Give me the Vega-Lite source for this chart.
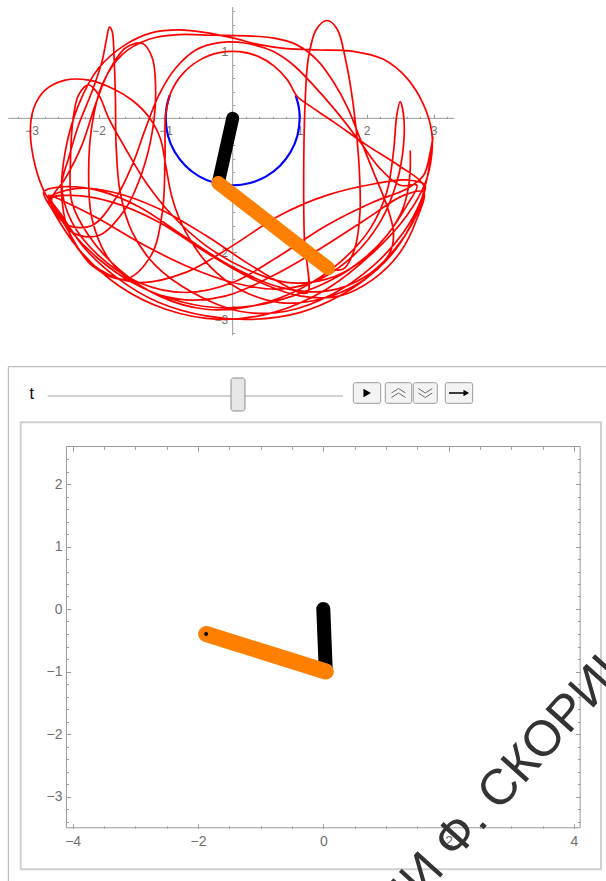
{
  "$schema": "https://vega.github.io/schema/vega-lite/v6.json",
  "width": 606,
  "height": 881,
  "padding": 0,
  "autosize": {"type": "none"},
  "background": "#ffffff",
  "config": {
    "view": {"stroke": null},
    "axis": {"grid": false, "domain": false, "labelFont": "Liberation Sans", "labelColor": "#707070", "tickColor": "#9a9a9a", "labelFlush": false, "labelOverlap": false, "title": null}
  },
  "datasets": {
    "circle1": [
      {"i":1,"x":-0.94,"y":0.342},{"i":2,"x":-0.985,"y":0.174},{"i":3,"x":-1.0,"y":0.0},{"i":4,"x":-0.966,"y":-0.259},{"i":5,"x":-0.866,"y":-0.5},
      {"i":6,"x":-0.707,"y":-0.707},{"i":7,"x":-0.5,"y":-0.866},{"i":8,"x":-0.259,"y":-0.966},{"i":9,"x":0.0,"y":-1.0},{"i":10,"x":0.259,"y":-0.966},
      {"i":11,"x":0.5,"y":-0.866},{"i":12,"x":0.707,"y":-0.707},{"i":13,"x":0.866,"y":-0.5},{"i":14,"x":0.966,"y":-0.259},{"i":15,"x":1.0,"y":0.0},
      {"i":16,"x":0.985,"y":0.174},{"i":17,"x":0.94,"y":0.342}
    ],
    "traj": [
      {"i":1,"x":2.65,"y":-0.48},{"i":2,"x":2.65,"y":-0.75},{"i":3,"x":2.62,"y":-1.05},{"i":4,"x":2.52,"y":-1.4},{"i":5,"x":2.3,"y":-1.75},
      {"i":6,"x":1.95,"y":-2.1},{"i":7,"x":1.5,"y":-2.4},{"i":8,"x":0.9,"y":-2.65},{"i":9,"x":0.3,"y":-2.8},{"i":10,"x":-0.3,"y":-2.82},
      {"i":11,"x":-0.9,"y":-2.7},{"i":12,"x":-1.5,"y":-2.45},{"i":13,"x":-2.0,"y":-2.1},{"i":14,"x":-2.4,"y":-1.7},{"i":15,"x":-2.68,"y":-1.3},
      {"i":16,"x":-2.8,"y":-1.12},{"i":17,"x":-2.95,"y":-0.7},{"i":18,"x":-3.02,"y":-0.2},{"i":19,"x":-2.97,"y":0.15},{"i":20,"x":-2.8,"y":0.42},
      {"i":21,"x":-2.5,"y":0.57},{"i":22,"x":-2.15,"y":0.57},{"i":23,"x":-1.8,"y":0.45},{"i":24,"x":-1.5,"y":0.27},{"i":25,"x":-1.25,"y":0.02},
      {"i":26,"x":-1.08,"y":-0.3},{"i":27,"x":-1.0,"y":-0.7},{"i":28,"x":-0.9,"y":-1.2},{"i":29,"x":-0.7,"y":-1.7},{"i":30,"x":-0.35,"y":-2.2},
      {"i":31,"x":0.1,"y":-2.55},{"i":32,"x":0.7,"y":-2.75},{"i":33,"x":1.3,"y":-2.7},{"i":34,"x":1.9,"y":-2.45},{"i":35,"x":2.4,"y":-2.0},
      {"i":36,"x":2.75,"y":-1.4},{"i":37,"x":2.9,"y":-0.9},{"i":38,"x":2.97,"y":-0.45},{"i":39,"x":2.99,"y":-0.28},{"i":40,"x":2.95,"y":-0.5},
      {"i":41,"x":2.85,"y":-0.85},{"i":42,"x":2.6,"y":-1.05},{"i":43,"x":2.1,"y":-1.25},{"i":44,"x":1.4,"y":-1.6},{"i":45,"x":0.7,"y":-2.05},
      {"i":46,"x":0.0,"y":-2.45},{"i":47,"x":-0.7,"y":-2.6},{"i":48,"x":-1.4,"y":-2.45},{"i":49,"x":-2.0,"y":-2.05},{"i":50,"x":-2.4,"y":-1.55},
      {"i":51,"x":-2.55,"y":-1.0},{"i":52,"x":-2.45,"y":-0.6},{"i":53,"x":-2.3,"y":-0.1},{"i":54,"x":-2.1,"y":0.4},{"i":55,"x":-1.95,"y":0.85},
      {"i":56,"x":-1.88,"y":1.2},{"i":57,"x":-1.84,"y":1.36},{"i":58,"x":-1.8,"y":1.3},{"i":59,"x":-1.77,"y":0.9},{"i":60,"x":-1.75,"y":0.3},
      {"i":61,"x":-1.74,"y":-0.4},{"i":62,"x":-1.68,"y":-1.1},{"i":63,"x":-1.5,"y":-1.7},{"i":64,"x":-1.15,"y":-2.2},{"i":65,"x":-0.6,"y":-2.6},
      {"i":66,"x":0.1,"y":-2.88},{"i":67,"x":0.8,"y":-2.88},{"i":68,"x":1.5,"y":-2.62},{"i":69,"x":2.1,"y":-2.2},{"i":70,"x":2.55,"y":-1.7},
      {"i":71,"x":2.8,"y":-1.25},{"i":72,"x":2.87,"y":-1.0},{"i":73,"x":2.6,"y":-0.92},{"i":74,"x":2.1,"y":-0.98},{"i":75,"x":1.4,"y":-1.15},
      {"i":76,"x":0.7,"y":-1.45},{"i":77,"x":0.0,"y":-1.9},{"i":78,"x":-0.7,"y":-2.3},{"i":79,"x":-1.4,"y":-2.45},{"i":80,"x":-2.0,"y":-2.25},
      {"i":81,"x":-2.4,"y":-1.8},{"i":82,"x":-2.55,"y":-1.2},{"i":83,"x":-2.5,"y":-0.5},{"i":84,"x":-2.3,"y":0.2},{"i":85,"x":-2.0,"y":0.75},
      {"i":86,"x":-1.6,"y":1.1},{"i":87,"x":-1.2,"y":1.28},{"i":88,"x":-0.8,"y":1.32},{"i":89,"x":-0.4,"y":1.28},{"i":90,"x":0.0,"y":1.2},
      {"i":91,"x":0.4,"y":1.1},{"i":92,"x":0.8,"y":1.04},{"i":93,"x":1.3,"y":1.02},{"i":94,"x":1.8,"y":1.0},{"i":95,"x":2.25,"y":0.88},
      {"i":96,"x":2.6,"y":0.6},{"i":97,"x":2.85,"y":0.2},{"i":98,"x":2.97,"y":-0.2},{"i":99,"x":2.97,"y":-0.55},{"i":100,"x":2.88,"y":-0.95},
      {"i":101,"x":2.6,"y":-1.45},{"i":102,"x":2.1,"y":-2.0},{"i":103,"x":1.4,"y":-2.55},{"i":104,"x":0.6,"y":-2.9},{"i":105,"x":-0.2,"y":-3.0},
      {"i":106,"x":-1.0,"y":-2.85},{"i":107,"x":-1.7,"y":-2.5},{"i":108,"x":-2.3,"y":-1.95},{"i":109,"x":-2.7,"y":-1.35},{"i":110,"x":-2.82,"y":-1.1},
      {"i":111,"x":-2.5,"y":-1.02},{"i":112,"x":-2.0,"y":-1.08},{"i":113,"x":-1.4,"y":-1.32},{"i":114,"x":-0.7,"y":-1.78},{"i":115,"x":0.0,"y":-2.22},
      {"i":116,"x":0.7,"y":-2.52},{"i":117,"x":1.4,"y":-2.58},{"i":118,"x":2.0,"y":-2.35},{"i":119,"x":2.5,"y":-1.85},{"i":120,"x":2.8,"y":-1.3},
      {"i":121,"x":2.85,"y":-1.0},{"i":122,"x":2.5,"y":-0.72},{"i":123,"x":2.0,"y":-0.4},{"i":124,"x":1.5,"y":-0.05},{"i":125,"x":1.13,"y":0.2},
      {"i":126,"x":0.96,"y":0.33},{"i":127,"x":0.82,"y":0.57},{"i":128,"x":0.62,"y":0.78},{"i":129,"x":0.38,"y":0.925},{"i":130,"x":0.1,"y":0.995},
      {"i":131,"x":-0.2,"y":0.98},{"i":132,"x":-0.5,"y":0.865},{"i":133,"x":-0.75,"y":0.66},{"i":134,"x":-0.92,"y":0.39},{"i":135,"x":-1.0,"y":0.05},
      {"i":136,"x":-1.01,"y":-0.6},{"i":137,"x":-1.05,"y":-1.4},{"i":138,"x":-1.22,"y":-2.05},{"i":139,"x":-1.6,"y":-2.4},{"i":140,"x":-2.1,"y":-2.2},
      {"i":141,"x":-2.5,"y":-1.6},{"i":142,"x":-2.72,"y":-1.2},{"i":143,"x":-2.4,"y":-1.15},{"i":144,"x":-1.8,"y":-1.25},{"i":145,"x":-1.1,"y":-1.55},
      {"i":146,"x":-0.4,"y":-2.0},{"i":147,"x":0.3,"y":-2.4},{"i":148,"x":1.0,"y":-2.65},{"i":149,"x":1.6,"y":-2.65},{"i":150,"x":2.1,"y":-2.4},
      {"i":151,"x":2.5,"y":-2.0},{"i":152,"x":2.75,"y":-1.5},{"i":153,"x":2.85,"y":-1.1},{"i":154,"x":2.55,"y":-1.15},{"i":155,"x":2.0,"y":-1.5},
      {"i":156,"x":1.3,"y":-1.95},{"i":157,"x":0.6,"y":-2.35},{"i":158,"x":-0.1,"y":-2.65},{"i":159,"x":-0.8,"y":-2.7},{"i":160,"x":-1.4,"y":-2.5},
      {"i":161,"x":-1.85,"y":-2.1},{"i":162,"x":-2.1,"y":-1.5},{"i":163,"x":-2.15,"y":-0.8},{"i":164,"x":-2.1,"y":-0.1},{"i":165,"x":-1.95,"y":0.5},
      {"i":166,"x":-1.65,"y":0.95},{"i":167,"x":-1.25,"y":1.18},{"i":168,"x":-0.8,"y":1.25},{"i":169,"x":-0.3,"y":1.24},{"i":170,"x":0.2,"y":1.23},
      {"i":171,"x":0.6,"y":1.2},{"i":172,"x":0.95,"y":1.1},{"i":173,"x":1.25,"y":0.88},{"i":174,"x":1.5,"y":0.55},{"i":175,"x":1.72,"y":0.15},
      {"i":176,"x":1.9,"y":-0.3},{"i":177,"x":2.1,"y":-0.8},{"i":178,"x":2.3,"y":-1.3},{"i":179,"x":2.4,"y":-1.7},{"i":180,"x":2.35,"y":-2.0},
      {"i":181,"x":2.1,"y":-2.3},{"i":182,"x":1.6,"y":-2.65},{"i":183,"x":1.0,"y":-2.9},{"i":184,"x":0.3,"y":-3.0},{"i":185,"x":-0.4,"y":-2.95},
      {"i":186,"x":-1.1,"y":-2.75},{"i":187,"x":-1.7,"y":-2.4},{"i":188,"x":-2.2,"y":-1.95},{"i":189,"x":-2.55,"y":-1.45},{"i":190,"x":-2.75,"y":-1.15},
      {"i":191,"x":-2.5,"y":-1.25},{"i":192,"x":-2.0,"y":-1.5},{"i":193,"x":-1.4,"y":-1.85},{"i":194,"x":-0.7,"y":-2.2},{"i":195,"x":0.0,"y":-2.45},
      {"i":196,"x":0.7,"y":-2.55},{"i":197,"x":1.3,"y":-2.4},{"i":198,"x":1.8,"y":-2.05},{"i":199,"x":2.2,"y":-1.55},{"i":200,"x":2.45,"y":-0.95},
      {"i":201,"x":2.55,"y":-0.4},{"i":202,"x":2.55,"y":0.05},{"i":203,"x":2.5,"y":0.25},{"i":204,"x":2.45,"y":0.05},{"i":205,"x":2.4,"y":-0.5},
      {"i":206,"x":2.3,"y":-1.1},{"i":207,"x":2.05,"y":-1.65},{"i":208,"x":1.6,"y":-2.15},{"i":209,"x":1.0,"y":-2.55},{"i":210,"x":0.3,"y":-2.8},
      {"i":211,"x":-0.4,"y":-2.85},{"i":212,"x":-1.1,"y":-2.65},{"i":213,"x":-1.7,"y":-2.25},{"i":214,"x":-2.15,"y":-1.75},{"i":215,"x":-2.4,"y":-1.25},
      {"i":216,"x":-2.42,"y":-0.6},{"i":217,"x":-2.38,"y":0.0},{"i":218,"x":-2.3,"y":0.35},{"i":219,"x":-2.15,"y":0.5},{"i":220,"x":-2.0,"y":0.35},
      {"i":221,"x":-1.85,"y":0.0},{"i":222,"x":-1.6,"y":-0.45},{"i":223,"x":-1.3,"y":-0.95},{"i":224,"x":-0.9,"y":-1.45},{"i":225,"x":-0.4,"y":-1.9},
      {"i":226,"x":0.2,"y":-2.25},{"i":227,"x":0.8,"y":-2.45},{"i":228,"x":1.4,"y":-2.4},{"i":229,"x":1.9,"y":-2.15},{"i":230,"x":2.3,"y":-1.75},
      {"i":231,"x":2.6,"y":-1.3},{"i":232,"x":2.75,"y":-1.0},{"i":233,"x":2.5,"y":-1.0},{"i":234,"x":2.2,"y":-0.75},{"i":235,"x":1.9,"y":-0.35},
      {"i":236,"x":1.55,"y":0.1},{"i":237,"x":1.2,"y":0.5},{"i":238,"x":0.9,"y":0.8},{"i":239,"x":0.6,"y":1.0},{"i":240,"x":0.2,"y":1.12},
      {"i":241,"x":-0.2,"y":1.13},{"i":242,"x":-0.55,"y":1.02},{"i":243,"x":-0.85,"y":0.75},{"i":244,"x":-1.1,"y":0.35},{"i":245,"x":-1.3,"y":-0.15},
      {"i":246,"x":-1.5,"y":-0.7},{"i":247,"x":-1.75,"y":-1.2},{"i":248,"x":-2.1,"y":-1.6},{"i":249,"x":-2.45,"y":-1.6},{"i":250,"x":-2.65,"y":-1.4},
      {"i":251,"x":-2.7,"y":-1.2},{"i":252,"x":-2.5,"y":-0.9},{"i":253,"x":-2.25,"y":-0.4},{"i":254,"x":-2.05,"y":0.2},{"i":255,"x":-1.85,"y":0.7},
      {"i":256,"x":-1.6,"y":1.05},{"i":257,"x":-1.35,"y":1.12},{"i":258,"x":-1.2,"y":0.9},{"i":259,"x":-1.15,"y":0.4},{"i":260,"x":-1.2,"y":-0.2},
      {"i":261,"x":-1.35,"y":-0.8},{"i":262,"x":-1.6,"y":-1.35},{"i":263,"x":-2.0,"y":-1.75},{"i":264,"x":-2.4,"y":-1.7},{"i":265,"x":-2.65,"y":-1.35},
      {"i":266,"x":-2.75,"y":-1.2},{"i":267,"x":-2.35,"y":-1.05},{"i":268,"x":-1.8,"y":-1.1},{"i":269,"x":-1.1,"y":-1.35},{"i":270,"x":-0.4,"y":-1.75},
      {"i":271,"x":0.2,"y":-2.15},{"i":272,"x":0.7,"y":-2.45},{"i":273,"x":1.0,"y":-2.6},{"i":274,"x":1.12,"y":-2.6},{"i":275,"x":1.07,"y":-1.8},
      {"i":276,"x":1.06,"y":-0.8},{"i":277,"x":1.08,"y":0.2},{"i":278,"x":1.13,"y":0.9},{"i":279,"x":1.25,"y":1.33},{"i":280,"x":1.41,"y":1.46},
      {"i":281,"x":1.56,"y":1.33},{"i":282,"x":1.68,"y":0.9},{"i":283,"x":1.8,"y":0.2},{"i":284,"x":1.88,"y":-0.6},{"i":285,"x":1.9,"y":-1.4},
      {"i":286,"x":1.82,"y":-1.95},{"i":287,"x":1.65,"y":-2.25},{"i":288,"x":1.43,"y":-2.24}
    ]
  },
  "layer": [
    {
      "layer": [
        {
          "data": {"values": [{"x1": -3.35, "x2": 3.31}]},
          "mark": {"type": "rule", "color": "#999999", "strokeWidth": 1},
          "encoding": {
            "x": {"field": "x1", "type": "quantitative", "scale": {"domain": [-3.473, 5.572], "nice": false, "zero": false},
                  "axis": {"orient": "bottom", "offset": -762.7, "values": [-3, -2, -1, 1, 2, 3], "ticks": false, "tickSize": 0, "labelPadding": 7, "labelFontSize": 12}},
            "x2": {"field": "x2"},
            "y": {"datum": 0, "type": "quantitative", "scale": {"domain": [-11.384, 1.766], "nice": false, "zero": false}, "axis": null}
          }
        },
        {
          "data": {"values": [{"y1": -3.24, "y2": 1.66}]},
          "mark": {"type": "rule", "color": "#999999", "strokeWidth": 1},
          "encoding": {
            "y": {"field": "y1", "type": "quantitative", "scale": {"domain": [-11.384, 1.766], "nice": false, "zero": false},
                  "axis": {"orient": "left", "offset": -232.7, "values": [-3, -2, -1, 1], "ticks": false, "tickSize": 0, "labelPadding": 5, "labelFontSize": 12}},
            "y2": {"field": "y2"},
            "x": {"datum": 0, "type": "quantitative", "scale": {"domain": [-3.473, 5.572], "nice": false, "zero": false}, "axis": null}
          }
        },
        {
          "data": {"name": "circle1"},
          "mark": {"type": "line", "color": "#0000ff", "strokeWidth": 2.2, "interpolate": "catmull-rom"},
          "encoding": {
            "x": {"field": "x", "type": "quantitative", "scale": {"domain": [-3.473, 5.572], "nice": false, "zero": false},
                  "axis": {"orient": "top", "offset": -118.3, "values": [-3, -2, -1, 1, 2, 3], "labels": false, "tickSize": 4}},
            "y": {"field": "y", "type": "quantitative", "scale": {"domain": [-11.384, 1.766], "nice": false, "zero": false},
                  "axis": {"orient": "right", "offset": -373.3, "values": [-3, -2, -1, 1], "labels": false, "tickSize": 4}},
            "order": {"field": "i", "type": "quantitative"}
          }
        },
        {
          "data": {"name": "traj"},
          "mark": {"type": "line", "color": "#ff0000", "strokeWidth": 1.7, "interpolate": "catmull-rom"},
          "encoding": {
            "x": {"field": "x", "type": "quantitative", "scale": {"domain": [-3.473, 5.572], "nice": false, "zero": false},
                  "axis": {"orient": "top", "offset": -118.3, "values": [-3.2, -2.8, -2.6, -2.4, -2.2, -1.8, -1.6, -1.4, -1.2, -0.8, -0.6, -0.4, -0.2, 0.2, 0.4, 0.6, 0.8, 1.2, 1.4, 1.6, 1.8, 2.2, 2.4, 2.6, 2.8, 3.2], "labels": false, "tickSize": 2}},
            "y": {"field": "y", "type": "quantitative", "scale": {"domain": [-11.384, 1.766], "nice": false, "zero": false},
                  "axis": {"orient": "right", "offset": -373.3, "values": [-3.2, -2.8, -2.6, -2.4, -2.2, -1.8, -1.6, -1.4, -1.2, -0.8, -0.6, -0.4, -0.2, 0.2, 0.4, 0.6, 0.8, 1.2, 1.4, 1.6], "labels": false, "tickSize": 2}},
            "order": {"field": "i", "type": "quantitative"}
          }
        },
        {
          "data": {"values": [{"x": 0, "y": 0, "x2": -0.215, "y2": -0.965}]},
          "mark": {"type": "rule", "color": "#000000", "strokeWidth": 13, "strokeCap": "round"},
          "encoding": {
            "x": {"field": "x", "type": "quantitative", "scale": {"domain": [-3.473, 5.572], "nice": false, "zero": false}, "axis": null},
            "y": {"field": "y", "type": "quantitative", "scale": {"domain": [-11.384, 1.766], "nice": false, "zero": false}, "axis": null},
            "x2": {"field": "x2"}, "y2": {"field": "y2"}
          }
        },
        {
          "data": {"values": [{"x": -0.215, "y": -0.965, "x2": 1.427, "y2": -2.239}]},
          "mark": {"type": "rule", "color": "#ff8000", "strokeWidth": 14, "strokeCap": "round"},
          "encoding": {
            "x": {"field": "x", "type": "quantitative", "scale": {"domain": [-3.473, 5.572], "nice": false, "zero": false}, "axis": null},
            "y": {"field": "y", "type": "quantitative", "scale": {"domain": [-11.384, 1.766], "nice": false, "zero": false}, "axis": null},
            "x2": {"field": "x2"}, "y2": {"field": "y2"}
          }
        }
      ],
      "resolve": {"axis": {"x": "independent", "y": "independent"}}
    },
    {
      "layer": [
        {
          "data": {"values": [{}]},
          "mark": {"type": "rect", "filled": false, "color": "#b0b0b0", "strokeWidth": 1},
          "encoding": {
            "x": {"datum": -5.027, "type": "quantitative", "scale": {"domain": [-5.16, 4.512], "nice": false, "zero": false}, "axis": null},
            "x2": {"datum": 4.927},
            "y": {"datum": 3.877, "type": "quantitative", "scale": {"domain": [-4.352, 9.744], "nice": false, "zero": false}, "axis": null},
            "y2": {"datum": -4.496}
          }
        },
        {
          "data": {"values": [{}]},
          "mark": {"type": "rect", "filled": false, "color": "#d0d0d0", "strokeWidth": 2},
          "encoding": {
            "x": {"datum": -4.829, "type": "quantitative", "scale": {"domain": [-5.16, 4.512], "nice": false, "zero": false},
                  "axis": {"orient": "bottom", "offset": -434.3, "values": [-3.5, -3, -2.5, -1.5, -1, -0.5, 0.5, 1, 1.5, 2.5, 3, 3.5], "labels": false, "tickSize": 2.5}},
            "x2": {"datum": 4.432},
            "y": {"datum": 2.987, "type": "quantitative", "scale": {"domain": [-4.352, 9.744], "nice": false, "zero": false},
                  "axis": {"orient": "left", "offset": -580, "values": [-3.4, -3.2, -2.8, -2.6, -2.4, -2.2, -1.8, -1.6, -1.4, -1.2, -0.8, -0.6, -0.4, -0.2, 0.2, 0.4, 0.6, 0.8, 1.2, 1.4, 1.6, 1.8, 2.2, 2.4], "labels": false, "tickSize": 2.5}},
            "y2": {"datum": -4.165}
          }
        },
        {
          "data": {"values": [{}]},
          "mark": {"type": "rule", "color": "#c2c2c2", "strokeWidth": 1.5},
          "encoding": {
            "x": {"datum": -4.398, "type": "quantitative", "scale": {"domain": [-5.16, 4.512], "nice": false, "zero": false}, "axis": null},
            "x2": {"datum": 0.314},
            "y": {"datum": 3.408, "type": "quantitative", "scale": {"domain": [-4.352, 9.744], "nice": false, "zero": false}, "axis": null}
          }
        },
        {
          "data": {"values": [{}]},
          "mark": {"type": "rect", "fill": "#e6e6e6", "stroke": "#8c8c8c", "strokeWidth": 1, "cornerRadius": 2.5},
          "encoding": {
            "x": {"datum": -1.473, "type": "quantitative", "scale": {"domain": [-5.16, 4.512], "nice": false, "zero": false}, "axis": null},
            "x2": {"datum": -1.25},
            "y": {"datum": 3.696, "type": "quantitative", "scale": {"domain": [-4.352, 9.744], "nice": false, "zero": false}, "axis": null},
            "y2": {"datum": 3.168}
          }
        },
        {
          "data": {"values": [{"b": "play", "x0": 0.479, "x1": 0.916}, {"b": "up", "x0": 0.989, "x1": 1.411}, {"b": "down", "x0": 1.436, "x1": 1.819}, {"b": "next", "x0": 1.947, "x1": 2.384}]},
          "mark": {"type": "rect", "fill": "#f3f3f3", "stroke": "#9a9a9a", "strokeWidth": 1, "cornerRadius": 2},
          "encoding": {
            "x": {"field": "x0", "type": "quantitative", "scale": {"domain": [-5.16, 4.512], "nice": false, "zero": false}, "axis": null},
            "x2": {"field": "x1"},
            "y": {"datum": 3.621, "type": "quantitative", "scale": {"domain": [-4.352, 9.744], "nice": false, "zero": false}, "axis": null},
            "y2": {"datum": 3.291}
          }
        },
        {
          "data": {"values": [{}]},
          "mark": {"type": "point", "shape": "triangle-right", "size": 75, "filled": true, "color": "#000000", "opacity": 1},
          "encoding": {
            "x": {"datum": 0.70, "type": "quantitative", "scale": {"domain": [-5.16, 4.512], "nice": false, "zero": false}, "axis": null},
            "y": {"datum": 3.456, "type": "quantitative", "scale": {"domain": [-4.352, 9.744], "nice": false, "zero": false}, "axis": null}
          }
        },
        {
          "data": {"values": [{"x": 1.2, "s": "M-0.7,0L0,-0.45L0.7,0M-0.7,0.45L0,0L0.7,0.45"}, {"x": 1.628, "s": "M-0.7,-0.45L0,0L0.7,-0.45M-0.7,0L0,0.45L0.7,0"}]},
          "mark": {"type": "point", "size": 400, "filled": false, "stroke": "#6a6a6a", "strokeWidth": 1, "opacity": 1},
          "encoding": {
            "x": {"field": "x", "type": "quantitative", "scale": {"domain": [-5.16, 4.512], "nice": false, "zero": false}, "axis": null},
            "y": {"datum": 3.456, "type": "quantitative", "scale": {"domain": [-4.352, 9.744], "nice": false, "zero": false}, "axis": null},
            "shape": {"field": "s", "type": "nominal", "scale": null}
          }
        },
        {
          "data": {"values": [{}]},
          "mark": {"type": "point", "shape": "M-1,-0.07L0.45,-0.07L0.45,-0.33L1,0L0.45,0.33L0.45,0.07L-1,0.07Z", "size": 400, "filled": true, "color": "#000000", "opacity": 1},
          "encoding": {
            "x": {"datum": 2.166, "type": "quantitative", "scale": {"domain": [-5.16, 4.512], "nice": false, "zero": false}, "axis": null},
            "y": {"datum": 3.456, "type": "quantitative", "scale": {"domain": [-4.352, 9.744], "nice": false, "zero": false}, "axis": null}
          }
        },
        {
          "data": {"values": [{}]},
          "mark": {"type": "text", "text": "t", "font": "Liberation Sans", "fontSize": 16, "color": "#000000", "align": "center", "baseline": "middle"},
          "encoding": {
            "x": {"datum": -4.654, "type": "quantitative", "scale": {"domain": [-5.16, 4.512], "nice": false, "zero": false}, "axis": null},
            "y": {"datum": 3.44, "type": "quantitative", "scale": {"domain": [-4.352, 9.744], "nice": false, "zero": false}, "axis": null}
          }
        },
        {
          "data": {"values": [{}]},
          "mark": {"type": "rect", "filled": false, "color": "#9a9a9a", "strokeWidth": 1},
          "encoding": {
            "x": {"datum": -4.1, "type": "quantitative", "scale": {"domain": [-5.16, 4.512], "nice": false, "zero": false},
                  "axis": {"orient": "bottom", "offset": -52.7, "values": [-4, -2, 0, 2, 4], "ticks": false, "tickSize": 0, "labelPadding": 6, "labelFontSize": 14}},
            "x2": {"datum": 4.1},
            "y": {"datum": -3.5, "type": "quantitative", "scale": {"domain": [-4.352, 9.744], "nice": false, "zero": false},
                  "axis": {"orient": "left", "offset": -66, "values": [-3, -2, -1, 0, 1, 2], "ticks": false, "tickSize": 0, "labelPadding": 4, "labelFontSize": 14}},
            "y2": {"datum": 2.6}
          }
        },
        {
          "data": {"values": [{"x": 0, "y": 0, "x2": 0.04, "y2": -1.0}]},
          "mark": {"type": "rule", "color": "#000000", "strokeWidth": 14, "strokeCap": "round"},
          "encoding": {
            "x": {"field": "x", "type": "quantitative", "scale": {"domain": [-5.16, 4.512], "nice": false, "zero": false},
                  "axis": {"orient": "top", "offset": -828.3, "values": [-4, -2, 0, 2, 4], "labels": false, "tickSize": 4.5}},
            "y": {"field": "y", "type": "quantitative", "scale": {"domain": [-4.352, 9.744], "nice": false, "zero": false},
                  "axis": {"orient": "right", "offset": -540, "values": [-3, -2, -1, 0, 1, 2], "labels": false, "tickSize": 4.5}},
            "x2": {"field": "x2"}, "y2": {"field": "y2"}
          }
        },
        {
          "data": {"values": [{"x": 0.04, "y": -1.0, "x2": -1.87, "y2": -0.4}]},
          "mark": {"type": "rule", "color": "#ff8000", "strokeWidth": 16, "strokeCap": "round"},
          "encoding": {
            "x": {"field": "x", "type": "quantitative", "scale": {"domain": [-5.16, 4.512], "nice": false, "zero": false},
                  "axis": {"orient": "top", "offset": -828.3, "values": [-3.5, -3, -2.5, -1.5, -1, -0.5, 0.5, 1, 1.5, 2.5, 3, 3.5], "labels": false, "tickSize": 2.5}},
            "y": {"field": "y", "type": "quantitative", "scale": {"domain": [-4.352, 9.744], "nice": false, "zero": false},
                  "axis": {"orient": "right", "offset": -540, "values": [-3.4, -3.2, -2.8, -2.6, -2.4, -2.2, -1.8, -1.6, -1.4, -1.2, -0.8, -0.6, -0.4, -0.2, 0.2, 0.4, 0.6, 0.8, 1.2, 1.4, 1.6, 1.8, 2.2, 2.4], "labels": false, "tickSize": 2.5}},
            "x2": {"field": "x2"}, "y2": {"field": "y2"}
          }
        },
        {
          "data": {"values": [{"x": -1.87, "y": -0.4}]},
          "mark": {"type": "point", "shape": "circle", "size": 16, "filled": true, "color": "#000000", "opacity": 1},
          "encoding": {
            "x": {"field": "x", "type": "quantitative", "scale": {"domain": [-5.16, 4.512], "nice": false, "zero": false},
                  "axis": {"orient": "bottom", "offset": -434.3, "values": [-4, -2, 0, 2, 4], "labels": false, "tickSize": 4.5}},
            "y": {"field": "y", "type": "quantitative", "scale": {"domain": [-4.352, 9.744], "nice": false, "zero": false},
                  "axis": {"orient": "left", "offset": -580, "values": [-3, -2, -1, 0, 1, 2], "labels": false, "tickSize": 4.5}}
          }
        },
        {
          "data": {"values": [{}]},
          "mark": {"type": "text", "text": "ИМЕНИ Ф. СКОРИНЫ", "font": "Liberation Sans", "fontSize": 50, "color": "#333333", "align": "left", "baseline": "alphabetic", "angle": -48},
          "encoding": {
            "x": {"datum": 0.0, "type": "quantitative", "scale": {"domain": [-5.16, 4.512], "nice": false, "zero": false}, "axis": null},
            "y": {"datum": -6.374, "type": "quantitative", "scale": {"domain": [-4.352, 9.744], "nice": false, "zero": false}, "axis": null}
          }
        }
      ],
      "resolve": {"axis": {"x": "independent", "y": "independent"}}
    }
  ],
  "resolve": {"scale": {"x": "independent", "y": "independent"}, "axis": {"x": "independent", "y": "independent"}}
}
